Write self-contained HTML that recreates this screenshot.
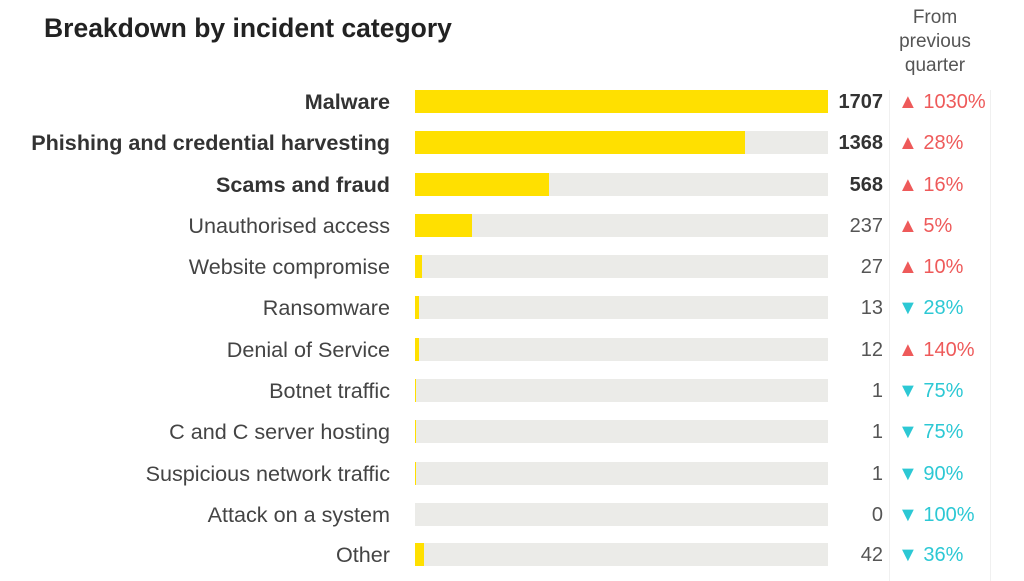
<!DOCTYPE html>
<html><head><style>
body{margin:0;width:1024px;height:581px;background:#fff;font-family:"Liberation Sans",sans-serif;position:relative;overflow:hidden}
.t{position:absolute;left:44px;top:13px;font-size:26.5px;font-weight:bold;color:#222}
.h{position:absolute;left:880px;width:110px;top:6px;text-align:center;font-size:19px;line-height:24px;color:#555}
.vl{position:absolute;top:90px;height:491px;width:1px;background:#f0f0f0}
.r{position:absolute;left:0;width:1024px;height:24px}
.l{position:absolute;right:634px;top:0;font-size:21.6px;line-height:24px;color:#444;white-space:nowrap}
.b{position:absolute;left:415px;width:413px;top:0;height:23px;background:#ebebe8}
.f{position:absolute;left:0;top:0;height:23px;background:#ffe000}
.n{position:absolute;right:141px;font-size:20px;line-height:24px;color:#555}
.c{position:absolute;left:898px;font-size:20px;line-height:24px}
.u{color:#ee5a5a}.d{color:#2cc8d4}
.bo .l,.bo .n{font-weight:bold;color:#333}
</style></head><body>
<div class="t">Breakdown by incident category</div>
<div class="h">From previous quarter</div>
<div class="vl" style="left:889px"></div><div class="vl" style="left:990px"></div>
<div class="r bo" style="top:90px"><div class="l">Malware</div><div class="b"><div class="f" style="width:413px"></div></div><div class="n">1707</div><div class="c u">▲ 1030%</div></div>
<div class="r bo" style="top:131px"><div class="l">Phishing and credential harvesting</div><div class="b"><div class="f" style="width:330px"></div></div><div class="n">1368</div><div class="c u">▲ 28%</div></div>
<div class="r bo" style="top:173px"><div class="l">Scams and fraud</div><div class="b"><div class="f" style="width:134px"></div></div><div class="n">568</div><div class="c u">▲ 16%</div></div>
<div class="r" style="top:214px"><div class="l">Unauthorised access</div><div class="b"><div class="f" style="width:57px"></div></div><div class="n">237</div><div class="c u">▲ 5%</div></div>
<div class="r" style="top:255px"><div class="l">Website compromise</div><div class="b"><div class="f" style="width:7px"></div></div><div class="n">27</div><div class="c u">▲ 10%</div></div>
<div class="r" style="top:296px"><div class="l">Ransomware</div><div class="b"><div class="f" style="width:4px"></div></div><div class="n">13</div><div class="c d">▼ 28%</div></div>
<div class="r" style="top:338px"><div class="l">Denial of Service</div><div class="b"><div class="f" style="width:4px"></div></div><div class="n">12</div><div class="c u">▲ 140%</div></div>
<div class="r" style="top:379px"><div class="l">Botnet traffic</div><div class="b"><div class="f" style="width:1px"></div></div><div class="n">1</div><div class="c d">▼ 75%</div></div>
<div class="r" style="top:420px"><div class="l">C and C server hosting</div><div class="b"><div class="f" style="width:1px"></div></div><div class="n">1</div><div class="c d">▼ 75%</div></div>
<div class="r" style="top:462px"><div class="l">Suspicious network traffic</div><div class="b"><div class="f" style="width:1px"></div></div><div class="n">1</div><div class="c d">▼ 90%</div></div>
<div class="r" style="top:503px"><div class="l">Attack on a system</div><div class="b"></div><div class="n">0</div><div class="c d">▼ 100%</div></div>
<div class="r" style="top:543px"><div class="l">Other</div><div class="b"><div class="f" style="width:9px"></div></div><div class="n">42</div><div class="c d">▼ 36%</div></div>
</body></html>
